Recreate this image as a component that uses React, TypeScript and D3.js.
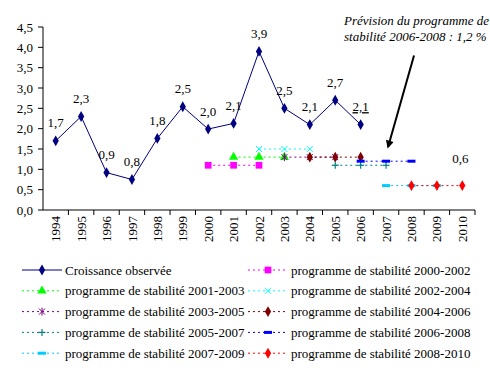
import React from "react";
import { scaleBand, scaleLinear, line, symbol, symbolSquare, symbolTriangle, symbolDiamond, symbolCross } from "d3";

const years = ["1994", "1995", "1996", "1997", "1998", "1999", "2000", "2001", "2002", "2003", "2004", "2005", "2006", "2007", "2008", "2009", "2010"];
const yTicks = [0, 0.5, 1, 1.5, 2, 2.5, 3, 3.5, 4, 4.5];

const observedYears = ["1994", "1995", "1996", "1997", "1998", "1999", "2000", "2001", "2002", "2003", "2004", "2005", "2006"];
const observedValues = [1.7, 2.3, 0.92, 0.75, 1.76, 2.54, 1.99, 2.13, 3.9, 2.5, 2.1, 2.7, 2.1];
const observedLabels = ["1,7", "2,3", "0,9", "0,8", "1,8", "2,5", "2,0", "2,1", "3,9", "2,5", "2,1", "2,7", "2,1"];

const programNames = ["2000-2002", "2001-2003", "2002-2004", "2003-2005", "2004-2006", "2005-2007", "2006-2008", "2007-2009", "2008-2010"];
const programValues = [
  [1.1, 1.1, 1.1],
  [1.3, 1.3, 1.3],
  [1.5, 1.5, 1.5],
  [1.3, 1.3, 1.3],
  [1.3, 1.3, 1.3],
  [1.1, 1.1, 1.1],
  [1.2, 1.2, 1.2],
  [0.6, 0.6, 0.6],
  [0.6, 0.6, 0.6],
];
const programColors = ["#FF00FF", "#00FF00", "#00FFFF", "#800080", "#800000", "#008080", "#0000FF", "#00CCFF", "#FF0000"];
const programMarkers = ["square", "triangle", "x", "star", "diamond", "plus", "dash", "dash", "diamond"];

const W = 490;
const H = 372;
const plot = { left: 43, right: 475, top: 27, bottom: 210 };
const FONT = "'Liberation Serif', 'Times New Roman', 'DejaVu Serif', serif";

const Marker = ({ kind, x, y, color }: { kind: string; x: number; y: number; color: string }) => {
  if (kind === "square") return <path d={symbol(symbolSquare, 45)()!} transform={`translate(${x},${y})`} fill={color} />;
  if (kind === "triangle") return <path d={symbol(symbolTriangle, 38)()!} transform={`translate(${x},${y})`} fill={color} />;
  if (kind === "diamond") return <path d={symbol(symbolDiamond, 34)()!} transform={`translate(${x},${y})`} fill={color} />;
  if (kind === "x")
    return (
      <g stroke={color} strokeWidth={1}>
        <line x1={x - 3} y1={y - 3} x2={x + 3} y2={y + 3} />
        <line x1={x - 3} y1={y + 3} x2={x + 3} y2={y - 3} />
      </g>
    );
  if (kind === "star")
    return (
      <g stroke={color} strokeWidth={1}>
        <line x1={x - 3} y1={y - 3} x2={x + 3} y2={y + 3} />
        <line x1={x - 3} y1={y + 3} x2={x + 3} y2={y - 3} />
        <line x1={x} y1={y - 4} x2={x} y2={y + 4} />
      </g>
    );
  if (kind === "plus")
    return (
      <g stroke={color} strokeWidth={1.2}>
        <line x1={x - 3.5} y1={y} x2={x + 3.5} y2={y} />
        <line x1={x} y1={y - 3.5} x2={x} y2={y + 3.5} />
      </g>
    );
  if (kind === "dash") return <rect x={x - 4} y={y - 1.5} width={8} height={3} fill={color} />;
  return <path d={symbol(symbolCross, 30)()!} transform={`translate(${x},${y})`} fill={color} />;
};

export default function App() {
  const x = scaleBand<string>().domain(years).range([plot.left, plot.right]).padding(0);
  const y = scaleLinear().domain([0, 4.5]).range([plot.bottom, plot.top]);
  const cx = (yr: string) => (x(yr) ?? 0) + x.bandwidth() / 2;

  const obsLine = line<number>()
    .x((_, i) => cx(observedYears[i]))
    .y((d) => y(d));

  const progLine = (start: number) =>
    line<number>()
      .x((_, i) => cx(years[start + i]))
      .y((d) => y(d));

  const legendRows = ["Croissance observée", ...programNames.map((n) => `programme de stabilité ${n}`)];

  const arrowEnd = { x: cx("2007") + 2, y: y(1.55) };
  const arrowStart = { x: cx("2008") + x.bandwidth() * 0.1, y: y(3.8) };

  return (
    <svg width={W} height={H} style={{ position: "absolute", left: 0, top: 0, background: "#fff", fontFamily: FONT }}>
      <defs>
        <marker id="arrowhead" viewBox="0 0 10 10" refX="8" refY="5" markerWidth="4.5" markerHeight="4" orient="auto">
          <path d="M0,0 L10,5 L0,10 z" fill="#000" />
        </marker>
      </defs>

      {/* axes */}
      <line x1={plot.left} y1={plot.top} x2={plot.left} y2={plot.bottom} stroke="#000" />
      <line x1={plot.left} y1={plot.bottom} x2={plot.right} y2={plot.bottom} stroke="#000" />
      {yTicks.map((t) => (
        <g key={t}>
          <line x1={plot.left - 5} x2={plot.left} y1={y(t)} y2={y(t)} stroke="#000" />
          <text x={plot.left - 10} y={y(t)} dy="0.35em" textAnchor="end" fontSize={13}>
            {t.toFixed(1).replace(".", ",")}
          </text>
        </g>
      ))}
      {years.map((yr) => (
        <g key={yr}>
          <line x1={(x(yr) ?? 0) + x.bandwidth()} x2={(x(yr) ?? 0) + x.bandwidth()} y1={plot.bottom} y2={plot.bottom + 5} stroke="#000" />
          <text transform={`translate(${cx(yr)},${plot.bottom + 6}) rotate(-90)`} textAnchor="end" dy="0.35em" fontSize={13}>
            {yr}
          </text>
        </g>
      ))}

      {/* programme series */}
      {programValues.map((vals, k) => {
        const start = years.indexOf(programNames[k].slice(0, 4));
        return (
          <g key={k}>
            <path d={progLine(start)(vals)!} fill="none" stroke={programColors[k]} strokeWidth={1} strokeDasharray="2,3" />
            {vals.map((v, i) => (
              <Marker key={i} kind={programMarkers[k]} x={cx(years[start + i])} y={y(v)} color={programColors[k]} />
            ))}
          </g>
        );
      })}

      {/* observed series */}
      <path d={obsLine(observedValues)!} fill="none" stroke="#000080" strokeWidth={1} />
      {observedValues.map((v, i) => (
        <g key={i}>
          <path d={symbol(symbolDiamond, 34)()!} transform={`translate(${cx(observedYears[i])},${y(v)})`} fill="#000080" />
          <text
            x={cx(observedYears[i])}
            y={y(v) - 18}
            dy="0.35em"
            textAnchor="middle"
            fontSize={13}
            textDecoration={i === observedValues.length - 1 ? "underline" : undefined}
          >
            {observedLabels[i]}
          </text>
        </g>
      ))}
      <text x={cx("2010") - 2} y={y(0.6) - 27} dy="0.35em" textAnchor="middle" fontSize={13}>
        0,6
      </text>

      {/* annotation */}
      <text x={344} y={20} dy="0.35em" fontSize={13} fontStyle="italic">
        Prévision du programme de
      </text>
      <text x={344} y={36} dy="0.35em" fontSize={13} fontStyle="italic">
        stabilité 2006-2008 : 1,2 %
      </text>
      <line
        x1={arrowStart.x}
        y1={arrowStart.y}
        x2={arrowEnd.x}
        y2={arrowEnd.y}
        stroke="#000"
        strokeWidth={2}
        markerEnd="url(#arrowhead)"
      />

      {/* legend */}
      {legendRows.map((label, i) => {
        const col = i === 0 ? 0 : (i - 1) % 2 === 0 ? 1 : 0;
        const rowIdx = i === 0 ? 0 : col === 1 ? Math.floor((i - 1) / 2) : Math.floor((i - 1) / 2) + 1;
        const lx = col === 0 ? 22 : 248;
        const ly = 270 + rowIdx * 20.8;
        const isObs = i === 0;
        const color = isObs ? "#000080" : programColors[i - 1];
        return (
          <g key={label}>
            <line
              x1={lx}
              x2={lx + 40}
              y1={ly}
              y2={ly}
              stroke={color}
              strokeWidth={1}
              strokeDasharray={isObs ? undefined : "2,3"}
            />
            {isObs ? (
              <path d={symbol(symbolDiamond, 34)()!} transform={`translate(${lx + 20},${ly})`} fill={color} />
            ) : (
              <Marker kind={programMarkers[i - 1]} x={lx + 20} y={ly} color={color} />
            )}
            <text x={lx + 43} y={ly} dy="0.35em" fontSize={13}>
              {label}
            </text>
          </g>
        );
      })}
    </svg>
  );
}
